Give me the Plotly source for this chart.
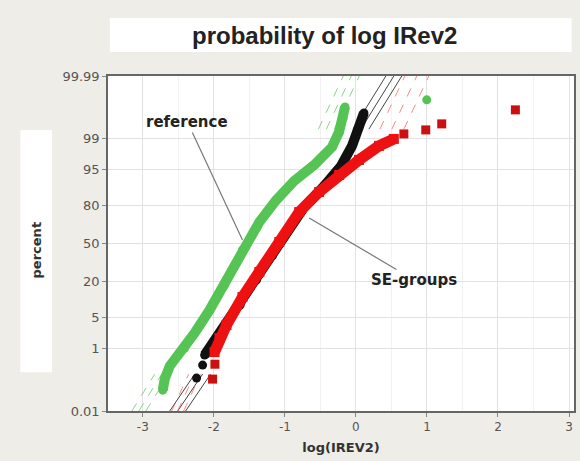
import plotly.graph_objects as go

# ---- data (x = log(IREV2), y = normal quantile of cumulative percent) ----
green_x = [-2.719, -2.690, -2.621, -2.537, -2.411, -2.271, -2.060, -1.850, -1.597, -1.359,
           -1.121, -0.868, -0.588, -0.335, -0.237, -0.181, -0.153]
green_z = [-3.256, -3.000, -2.722, -2.544, -2.322, -1.989, -1.478, -0.922, -0.144, 0.478,
           0.967, 1.389, 1.744, 2.144, 2.478, 2.789, 3.033]
green_tail_x = [0.997]
green_tail_z = [3.189]

black_x = [-2.130, -1.892, -1.630, -1.400, -1.170, -0.966, -0.728, -0.447, -0.209, -0.055, 0.043, 0.113]
black_z = [-2.478, -1.922, -1.367, -0.811, -0.256, 0.256, 0.811, 1.278, 1.722, 2.167, 2.589, 2.900]
black_tail_x = [-2.243, -2.158]
black_tail_z = [-2.989, -2.700]

red_x = [-1.990, -1.920, -1.822, -1.597, -1.359, -1.079, -0.798, -0.518, -0.237, 0.043, 0.324, 0.534]
red_z = [-2.411, -2.100, -1.811, -1.189, -0.633, 0.033, 0.700, 1.144, 1.522, 1.856, 2.167, 2.322]
red_tail_x = [-2.018, -1.985, 0.675, 0.983, 1.208, 2.245]
red_tail_z = [-3.011, -2.680, 2.433, 2.522, 2.656, 2.967]

# fitted-line end segments (bottom and top parts), three lines per group
green_fit_bottom_x0 = [-3.154, -3.056, -2.958]
green_fit_bottom_x1 = [-2.832, -2.734, -2.635]
green_fit_top_x0 = [-0.528, -0.416, -0.304]
green_fit_top_x1 = [-0.177, -0.065, 0.047]
black_fit_bottom_x0 = [-2.621, -2.509, -2.397]
black_fit_bottom_x1 = [-2.270, -2.158, -2.046]
black_fit_top_x0 = [-0.041, 0.071, 0.183]
black_fit_top_x1 = [0.422, 0.534, 0.646]
red_fit_bottom_x0 = [-2.593, -2.509, -2.425]
red_fit_bottom_x1 = [-2.355, -2.271, -2.186]
red_fit_top_x0 = [0.338, 0.506, 0.675]
red_fit_top_x1 = [0.689, 0.857, 1.026]
fit_bottom_z = [-3.719, -2.900]
fit_top_z = [2.540, 3.719]

tick_z = [-3.719, -2.326, -1.645, -0.842, 0.0, 0.842, 1.645, 2.326, 3.719]
tick_text = ["0.01", "1", "5", "20", "50", "80", "95", "99", "99.99"]
x_ticks = [-3, -2, -1, 0, 1, 2, 3]

GREEN = "#55C455"
BLACK = "#111111"
RED = "#EE1111"
DRED = "#CC1010"

fig = go.Figure()

def add_fit(b0, b1, t0, t1, color, dash):
    for i in range(len(b0)):
        fig.add_trace(go.Scatter(x=[b0[i], b1[i]], y=fit_bottom_z, mode="lines",
                                 line=dict(color=color, width=1, dash=dash),
                                 hoverinfo="skip", showlegend=False))
        fig.add_trace(go.Scatter(x=[t0[i], t1[i]], y=fit_top_z, mode="lines",
                                 line=dict(color=color, width=1, dash=dash),
                                 hoverinfo="skip", showlegend=False))

add_fit(green_fit_bottom_x0, green_fit_bottom_x1, green_fit_top_x0, green_fit_top_x1,
        "rgba(90,190,90,0.7)", "dash")
add_fit(black_fit_bottom_x0, black_fit_bottom_x1, black_fit_top_x0, black_fit_top_x1,
        "#444444", "solid")
add_fit(red_fit_bottom_x0, red_fit_bottom_x1, red_fit_top_x0, red_fit_top_x1,
        "rgba(240,90,90,0.7)", "dash")

fig.add_trace(go.Scatter(x=green_x, y=green_z, mode="lines+markers",
                         line=dict(color=GREEN, width=10), marker=dict(color=GREEN, size=9),
                         showlegend=False))
fig.add_trace(go.Scatter(x=green_tail_x, y=green_tail_z, mode="markers",
                         marker=dict(color=GREEN, size=9), showlegend=False))
fig.add_trace(go.Scatter(x=black_x, y=black_z, mode="lines+markers",
                         line=dict(color=BLACK, width=10), marker=dict(color=BLACK, size=9),
                         showlegend=False))
fig.add_trace(go.Scatter(x=black_tail_x, y=black_tail_z, mode="markers",
                         marker=dict(color=BLACK, size=9), showlegend=False))
fig.add_trace(go.Scatter(x=red_x, y=red_z, mode="lines+markers",
                         line=dict(color=RED, width=11), marker=dict(color=RED, size=10, symbol="square"),
                         showlegend=False))
fig.add_trace(go.Scatter(x=red_tail_x, y=red_tail_z, mode="markers",
                         marker=dict(color=DRED, size=9, symbol="square"), showlegend=False))

fig.update_layout(
    width=580, height=461,
    margin=dict(l=108, r=4, t=76, b=50),
    paper_bgcolor="#EFEDE8",
    plot_bgcolor="white",
    font=dict(family="DejaVu Sans", color="#444"),
    shapes=[
        dict(type="rect", xref="paper", yref="paper", x0=0.004, x1=0.995, y0=1.072, y1=1.173,
             fillcolor="white", line=dict(width=0), layer="below"),
        dict(type="rect", xref="paper", yref="paper", x0=-0.188, x1=-0.120, y0=0.116, y1=0.839,
             fillcolor="white", line=dict(width=0), layer="below"),
    ],
    annotations=[
        dict(text="<b>probability of log IRev2</b>", xref="paper", yref="paper", x=0.465, y=1.122,
             xanchor="center", yanchor="middle",
             showarrow=False, font=dict(family="Liberation Sans", size=24, color="#222")),
        dict(text="<b>percent</b>", xref="paper", yref="paper", x=-0.154, y=0.48,
             xanchor="center", yanchor="middle",
             textangle=-90, showarrow=False, font=dict(family="DejaVu Sans", size=13, color="#333")),
        dict(text="<b>reference</b>", x=-1.597, y=0.078, ax=-55, ay=-118,
             showarrow=True, arrowhead=0, arrowwidth=1.2, arrowcolor="#777",
             font=dict(family="DejaVu Sans", size=15, color="#222")),
        dict(text="<b>SE-groups</b>", x=-0.658, y=0.567, ax=105, ay=62,
             showarrow=True, arrowhead=0, arrowwidth=1.2, arrowcolor="#777",
             font=dict(family="DejaVu Sans", size=15, color="#222")),
    ],
)

fig.update_xaxes(range=[-3.49, 3.07], tickvals=x_ticks, ticktext=[str(v) for v in x_ticks],
                 showgrid=True, gridcolor="#E2E2E2", gridwidth=1,
                 minor=dict(dtick=0.5, showgrid=True, gridcolor="#F2F2F2"),
                 zeroline=False, showline=True, linecolor="#666", linewidth=1.5, mirror=True,
                 ticks="outside", ticklen=4, tickcolor="#888",
                 tickfont=dict(size=12, color="#555"),
                 title=dict(text="<b>log(IREV2)</b>", font=dict(size=13, color="#333"), standoff=10))
fig.update_yaxes(range=[-3.719, 3.719], tickvals=tick_z, ticktext=tick_text,
                 showgrid=True, gridcolor="#E2E2E2", gridwidth=1,
                 zeroline=False, showline=True, linecolor="#666", linewidth=1.5, mirror=True,
                 ticks="outside", ticklen=4, tickcolor="#888",
                 tickfont=dict(size=13, color="#555"))

fig.write_html("out.html")
